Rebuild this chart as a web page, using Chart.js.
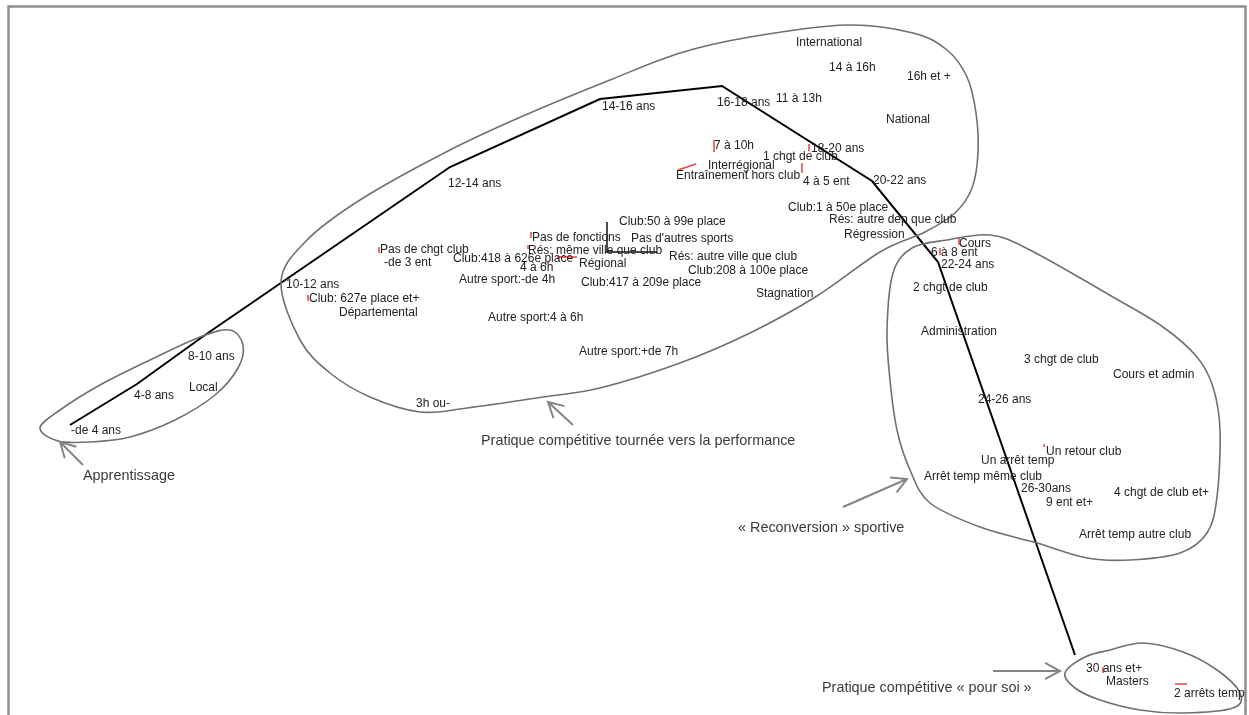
<!DOCTYPE html>
<html>
<head>
<meta charset="utf-8">
<script src="https://cdn.jsdelivr.net/npm/chart.js@4.4.1/dist/chart.umd.min.js"></script>
<style>
  html, body { margin: 0; padding: 0; background: #fff; overflow: hidden; }
  canvas { display: block; }
</style>
</head>
<body>
<canvas id="plan" width="1249" height="715"></canvas>
<script>
const modLabels = [
  'International', '14 à 16h', '16h et +', '16-18 ans', '11 à 13h', 'National',
  '7 à 10h', '18-20 ans', '1 chgt de club', 'Interrégional', 'Entraînement hors club',
  '4 à 5 ent', '20-22 ans', 'Club:1 à 50e place', 'Rés: autre dep que club', 'Régression',
  'Club:50 à 99e place', 'Pas de fonctions', "Pas d'autres sports", 'Rés: même ville que club',
  'Rés: autre ville que club', 'Club:208 à 100e place', 'Régional', 'Club:418 à 626e place',
  '4 à 6h', 'Club:417 à 209e place', 'Autre sport:-de 4h', 'Stagnation', 'Pas de chgt club',
  '-de 3 ent', '10-12 ans', 'Club: 627e place et+', 'Départemental', 'Autre sport:4 à 6h',
  'Autre sport:+de 7h', '3h ou-', '12-14 ans', '14-16 ans', '8-10 ans', 'Local', '4-8 ans',
  '-de 4 ans', 'Cours', '6 à 8 ent', '22-24 ans', '2 chgt de club', 'Administration',
  '3 chgt de club', 'Cours et admin', '24-26 ans', 'Un retour club', 'Un arrêt temp',
  'Arrêt temp même club', '26-30ans', '9 ent et+', '4 chgt de club et+', 'Arrêt temp autre club',
  '30 ans et+', 'Masters', '2 arrêts temp'
];
const modX = [
  795, 828, 906, 716, 775, 885,
  713, 810, 762, 707, 675,
  802, 872, 787, 828, 843,
  618, 531, 630, 527,
  668, 687, 578, 452,
  519, 580, 458, 755, 379,
  383, 285, 308, 338, 487,
  578, 415, 447, 601, 187, 188, 133,
  70, 958, 930, 940, 912, 920,
  1023, 1112, 977, 1045, 980,
  923, 1020, 1045, 1113, 1078,
  1085, 1105, 1173
];
const modY = [
  43, 68, 77, 103, 99, 120,
  146, 149, 157, 166, 176,
  182, 181, 208, 220, 235,
  222, 238, 239, 251,
  257, 271, 264, 259,
  268, 283, 280, 294, 250,
  263, 285, 299, 313, 318,
  352, 404, 184, 107, 357, 388, 396,
  431, 244, 253, 265, 288, 332,
  360, 375, 400, 452, 461,
  477, 489, 503, 493, 535,
  669, 682, 694
];

// trajectoire des classes d'âge
const ageX = [70, 137, 205, 450, 600, 722, 872, 938, 1075];
const ageY = [425, 384, 335, 167, 99, 86, 181, 262, 655];

// contours des groupes
const groupNames = ['Apprentissage', 'Performance', 'Reconversion', 'Pour soi'];
const groupX = [
  [40, 60, 100, 150, 200, 230, 243, 238, 215, 175, 130, 90, 58],
  [281, 305, 360, 450, 530, 610, 680, 750, 847, 913, 947, 967, 976, 978, 972, 955, 925, 880,
   817, 750, 680, 600, 543, 467, 420, 370, 330, 300],
  [890, 887, 893, 912, 947, 990, 1030, 1113, 1163, 1197, 1213, 1220, 1217, 1207, 1180, 1130,
   1087, 1037, 980, 930, 910, 897],
  [1065, 1085, 1110, 1143, 1183, 1217, 1240, 1233, 1183, 1140, 1100, 1075]
];
const groupY = [
  [428, 410, 385, 360, 337, 330, 345, 368, 395, 420, 437, 442, 441],
  [282, 242, 200, 150, 113, 80, 53, 37, 25, 33, 50, 77, 113, 153, 188, 213, 232, 252,
   296, 333, 363, 388, 397, 408, 412, 397, 373, 340],
  [380, 330, 273, 248, 240, 235, 250, 297, 327, 357, 387, 430, 497, 533, 553, 560,
   558, 543, 527, 503, 470, 430],
  [673, 657, 650, 643, 652, 670, 693, 708, 713, 710, 700, 688]
];

// légendes des groupes et flèches
const captions = ['Apprentissage', 'Pratique compétitive tournée vers la performance',
  '« Reconversion » sportive', 'Pratique compétitive « pour soi »'];
const captionX = [83, 481, 738, 822];
const captionY = [476, 441, 528, 688];
const arrowFromX = [83, 573, 843, 993];
const arrowFromY = [465, 425, 507, 671];
const arrowToX = [60, 548, 907, 1060];
const arrowToY = [442, 402, 479, 671];

// repères rouges (déplacements d'étiquettes)
const redX1 = [379, 308, 531, 528, 557, 714, 809, 802, 678, 959, 940, 1044, 1103, 1175];
const redY1 = [247, 295, 232, 245, 257, 140, 144, 163, 170, 238, 248, 444, 667, 684];
const redX2 = [379, 308, 531, 528, 577, 714, 809, 802, 696, 959, 940, 1044, 1103, 1187];
const redY2 = [253, 301, 238, 249, 257, 152, 151, 173, 164, 245, 255, 447, 673, 684];

// croix des axes
const axisX1 = [607, 607];
const axisY1 = [222, 252];
const axisX2 = [607, 657];
const axisY2 = [253, 252];

const LABEL_FONT = '12px "Liberation Sans", Arial, sans-serif';
const CAPTION_FONT = '14.4px "Liberation Sans", Arial, sans-serif';

function px(chart, x) { return chart.scales.x.getPixelForValue(x); }
function py(chart, y) { return chart.scales.y.getPixelForValue(y); }

const framePlugin = {
  id: 'frame',
  beforeDraw(chart) {
    const ctx = chart.ctx;
    ctx.save();
    ctx.fillStyle = '#fff';
    ctx.fillRect(0, 0, chart.width, chart.height);
    ctx.strokeStyle = '#8f8f8f';
    ctx.lineWidth = 2.5;
    ctx.strokeRect(8.5, 6.5, 1237, 760);
    ctx.restore();
  }
};

const groupsPlugin = {
  id: 'groups',
  afterDatasetsDraw(chart) {
    const ctx = chart.ctx;
    ctx.save();
    ctx.strokeStyle = '#707070';
    ctx.lineWidth = 1.6;
    groupX.forEach((xs, g) => {
      const pts = xs.map((x, i) => [px(chart, x), py(chart, groupY[g][i])]);
      const n = pts.length;
      ctx.beginPath();
      ctx.moveTo(pts[0][0], pts[0][1]);
      for (let i = 0; i < n; i++) {
        const p0 = pts[(i - 1 + n) % n], p1 = pts[i], p2 = pts[(i + 1) % n], p3 = pts[(i + 2) % n];
        ctx.bezierCurveTo(
          p1[0] + (p2[0] - p0[0]) / 6, p1[1] + (p2[1] - p0[1]) / 6,
          p2[0] - (p3[0] - p1[0]) / 6, p2[1] - (p3[1] - p1[1]) / 6,
          p2[0], p2[1]);
      }
      ctx.closePath();
      ctx.stroke();
    });

    // flèches
    ctx.strokeStyle = '#858585';
    ctx.lineWidth = 2;
    arrowFromX.forEach((x0, i) => {
      const ax = px(chart, x0), ay = py(chart, arrowFromY[i]);
      const bx = px(chart, arrowToX[i]), by = py(chart, arrowToY[i]);
      const a = Math.atan2(by - ay, bx - ax);
      ctx.beginPath();
      ctx.moveTo(ax, ay);
      ctx.lineTo(bx, by);
      ctx.moveTo(bx - 17 * Math.cos(a - 0.5), by - 17 * Math.sin(a - 0.5));
      ctx.lineTo(bx, by);
      ctx.lineTo(bx - 17 * Math.cos(a + 0.5), by - 17 * Math.sin(a + 0.5));
      ctx.stroke();
    });

    // légendes
    ctx.fillStyle = '#3a3a3a';
    ctx.font = CAPTION_FONT;
    ctx.textAlign = 'left';
    ctx.textBaseline = 'middle';
    captions.forEach((t, i) => ctx.fillText(t, px(chart, captionX[i]), py(chart, captionY[i])));

    // repères rouges et croix
    ctx.lineWidth = 1.5;
    ctx.strokeStyle = '#e8453c';
    redX1.forEach((x, i) => {
      ctx.beginPath();
      ctx.moveTo(px(chart, x), py(chart, redY1[i]));
      ctx.lineTo(px(chart, redX2[i]), py(chart, redY2[i]));
      ctx.stroke();
    });
    ctx.strokeStyle = '#111';
    axisX1.forEach((x, i) => {
      ctx.beginPath();
      ctx.moveTo(px(chart, x), py(chart, axisY1[i]));
      ctx.lineTo(px(chart, axisX2[i]), py(chart, axisY2[i]));
      ctx.stroke();
    });

    // étiquettes des modalités
    ctx.fillStyle = '#222';
    ctx.font = LABEL_FONT;
    const meta = chart.getDatasetMeta(1);
    meta.data.forEach((pt, i) => ctx.fillText(modLabels[i], pt.x + 1, pt.y));
    ctx.restore();
  }
};

new Chart(document.getElementById('plan'), {
  type: 'scatter',
  data: {
    datasets: [
      {
        label: 'Âge',
        data: ageX.map((x, i) => ({ x: x, y: ageY[i] })),
        showLine: true,
        borderColor: '#000',
        borderWidth: 2,
        pointRadius: 0,
        tension: 0
      },
      {
        label: 'Modalités',
        data: modX.map((x, i) => ({ x: x, y: modY[i] })),
        pointRadius: 0,
        showLine: false
      }
    ]
  },
  options: {
    responsive: false,
    animation: false,
    layout: { padding: 0 },
    plugins: { legend: { display: false }, tooltip: { enabled: false } },
    scales: {
      x: { type: 'linear', min: 0, max: 1249, display: false },
      y: { type: 'linear', min: 0, max: 715, reverse: true, display: false }
    }
  },
  plugins: [framePlugin, groupsPlugin]
});
</script>
</body>
</html>
